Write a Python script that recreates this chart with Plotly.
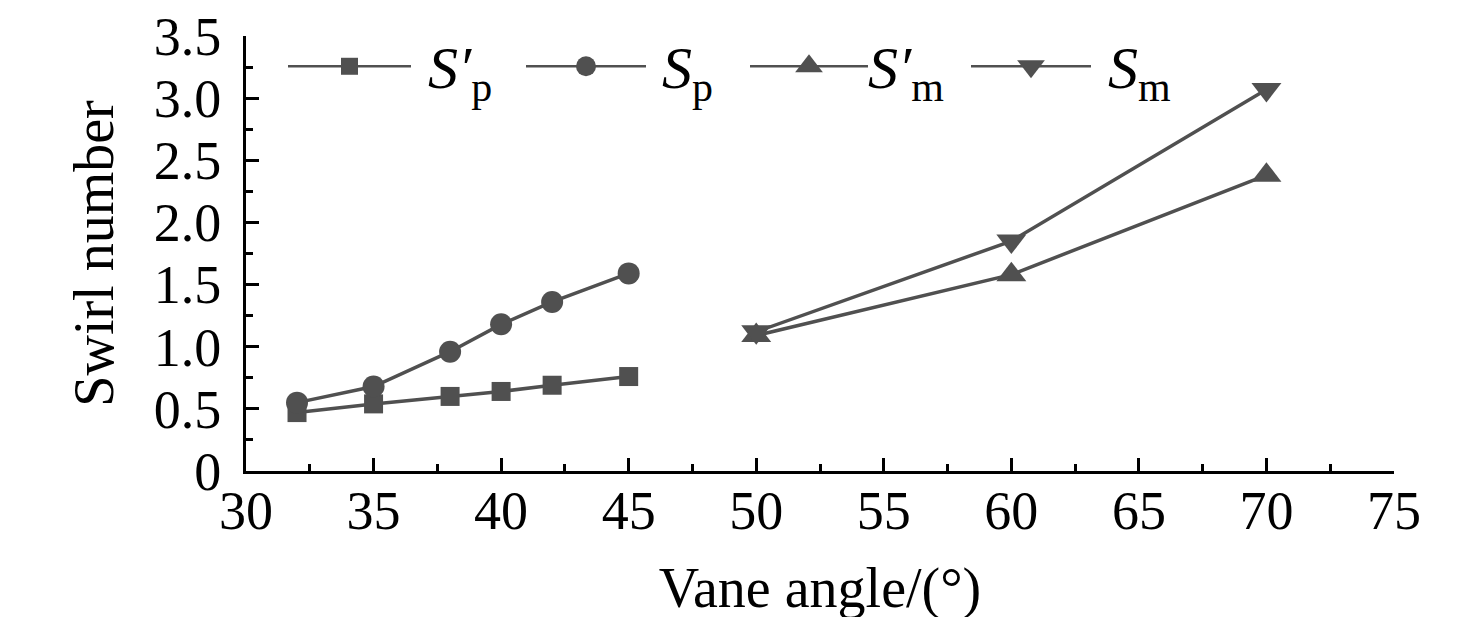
import plotly.graph_objects as go

# vane angles (deg) and swirl numbers
angle_p = [32, 35, 38, 40, 42, 45]
s_p_prime = [0.47, 0.54, 0.60, 0.64, 0.69, 0.76]
s_p = [0.55, 0.68, 0.96, 1.18, 1.36, 1.59]

angle_m = [50, 60, 70]
s_m_prime = [1.09, 1.58, 2.38]
s_m = [1.12, 1.85, 3.07]

x_ticks = [30, 35, 40, 45, 50, 55, 60, 65, 70, 75]
y_ticks = [0, 0.5, 1.0, 1.5, 2.0, 2.5, 3.0, 3.5]
y_ticktext = ["0", "0.5", "1.0", "1.5", "2.0", "2.5", "3.0", "3.5"]

names = ["<i>S′</i><sub>p</sub>", "<i>S</i><sub>p</sub>",
         "<i>S′</i><sub>m</sub>", "<i>S</i><sub>m</sub>"]
symbols = ["square", "circle", "triangle-up", "triangle-down"]
sizes = [19, 22, 26, 26]

col = "#505050"
FONT = "Liberation Serif"

fig = go.Figure()

series = [(angle_p, s_p_prime), (angle_p, s_p), (angle_m, s_m_prime), (angle_m, s_m)]
for (xs, ys), sym, sz, nm in zip(series, symbols, sizes, names):
    fig.add_trace(go.Scatter(x=xs, y=ys, mode="lines+markers", name=nm,
                             line=dict(color=col, width=3.5),
                             marker=dict(symbol=sym, size=sz, color=col, opacity=1),
                             showlegend=False))

# hand-made legend on an overlay axis measured in pixels
leg_line = [(280, 403), (518, 638), (742, 860), (963, 1083)]
leg_text_x = [418, 652, 858, 1098]
leg_y = 58
for (x0, x1), sym, sz, nm, tx in zip(leg_line, symbols, sizes, names, leg_text_x):
    fig.add_trace(go.Scatter(x=[x0, x1], y=[leg_y, leg_y], mode="lines",
                             xaxis="x2", yaxis="y2",
                             line=dict(color=col, width=2.5),
                             showlegend=False, hoverinfo="skip"))
    fig.add_trace(go.Scatter(x=[(x0 + x1) / 2], y=[leg_y], mode="markers",
                             xaxis="x2", yaxis="y2",
                             marker=dict(symbol=sym, size=sz - 2, color=col, opacity=1),
                             showlegend=False, hoverinfo="skip"))
    fig.add_annotation(x=tx, y=leg_y + 6, xref="x2", yref="y2", text=nm,
                       showarrow=False, xanchor="left", yanchor="middle",
                       font=dict(family=FONT, size=60, color="black"))

axis_common = dict(showgrid=False, zeroline=False, showline=True,
                   linecolor="black", linewidth=3, ticks="inside",
                   ticklen=13, tickwidth=3, tickcolor="black",
                   ticklabeloverflow="allow",
                   tickfont=dict(family=FONT, size=54, color="black"))

fig.update_layout(
    width=1476, height=617,
    margin=dict(l=238, r=90, t=28, b=154, autoexpand=False),
    plot_bgcolor="white", paper_bgcolor="white",
    font=dict(family=FONT, color="black"),
    xaxis=dict(range=[30, 75], tickmode="array", tickvals=x_ticks,
               minor=dict(tickmode="linear", tick0=32.5, dtick=5, ticks="inside",
                          ticklen=7, tickwidth=3, tickcolor="black"),
               title=dict(text="Vane angle/(°)", font=dict(family=FONT, size=56),
                          standoff=29),
               ticklabelstandoff=-10,
               **axis_common),
    yaxis=dict(range=[0, 3.5], tickmode="array", tickvals=y_ticks, ticktext=y_ticktext,
               minor=dict(tickmode="linear", tick0=0.25, dtick=0.5, ticks="inside",
                          ticklen=7, tickwidth=3, tickcolor="black"),
               title=dict(text="Swirl number", font=dict(family=FONT, size=56),
                          standoff=23),
               ticklabelstandoff=11,
               **axis_common),
    xaxis2=dict(overlaying="x", range=[238, 1386], visible=False, fixedrange=True),
    yaxis2=dict(overlaying="y", range=[463, 27.7], visible=False, fixedrange=True),
)

fig.write_html("out.html")
